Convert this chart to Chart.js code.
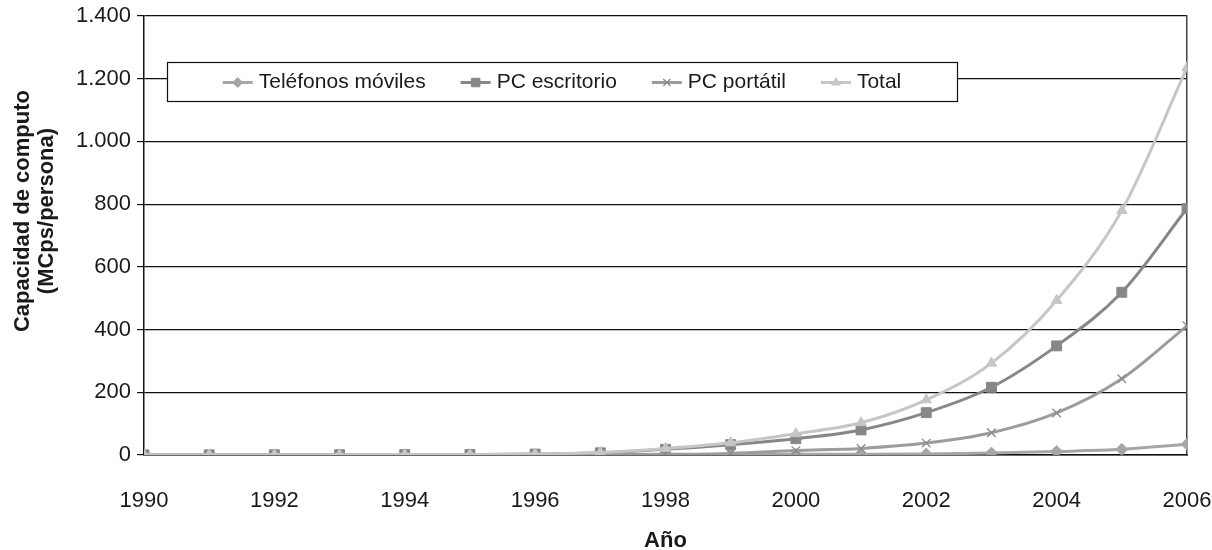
<!DOCTYPE html>
<html lang="es">
<head>
<meta charset="utf-8">
<title>Capacidad de computo por persona</title>
<script src="https://cdn.jsdelivr.net/npm/chart.js@4/dist/chart.umd.min.js"></script>
<style>
  html, body { margin: 0; padding: 0; background: #fff; }
  #contenedor { width: 1212px; height: 550px; position: relative; }
</style>
</head>
<body>
<div id="contenedor"><canvas id="grafica"></canvas></div>
<script>
// === Datos (MCps por persona) ===
const anios = [1990, 1991, 1992, 1993, 1994, 1995, 1996, 1997, 1998, 1999, 2000, 2001, 2002, 2003, 2004, 2005, 2006];
const telefonosMoviles = [0, 0, 0, 0, 0, 0, 0, 0.3, 0.5, 1, 2, 2, 3, 6, 11, 18, 34];
const pcEscritorio = [0.5, 0.6, 0.8, 1, 1.3, 1.8, 3, 7, 18, 33, 52, 80, 135, 216, 348, 519, 786];
const pcPortatil = [0, 0, 0, 0, 0, 0, 0.1, 0.5, 2, 5, 14, 21, 38, 71, 134, 243, 412];
const total = [0.5, 0.6, 0.8, 1, 1.3, 1.8, 3.1, 8, 21, 39, 68, 103, 176, 293, 493, 780, 1235];

const etiquetasSeries = ['Teléfonos móviles', 'PC escritorio', 'PC portátil', 'Total'];
const ticksY = [0, 200, 400, 600, 800, 1000, 1200, 1400];

const FUENTE = "'Liberation Sans', Arial, Helvetica, sans-serif";

function aPuntos(valores) {
  return valores.map((v, i) => ({ x: anios[i], y: v }));
}

// separador de miles con punto: 1.400
function formatoMiles(valor) {
  return String(valor).replace(/\B(?=(\d{3})+(?!\d))/g, '.');
}

function crearSerie(etiqueta, valores, color, estilo, radio, orden) {
  const esCruz = estilo === 'crossRot';
  return {
    label: etiqueta,
    data: aPuntos(valores),
    borderColor: color,
    backgroundColor: color,
    borderWidth: 3,
    pointStyle: estilo,
    pointRadius: radio,
    pointBorderWidth: esCruz ? 1.3 : 1,
    pointBorderColor: esCruz ? '#8a8a8a' : color,
    pointBackgroundColor: color,
    cubicInterpolationMode: 'monotone',
    order: orden,
  };
}

// sin margen extra por las etiquetas que sobresalen
function sinRelleno(escala) {
  escala.paddingTop = 0;
  escala.paddingBottom = 0;
  escala.paddingLeft = 0;
  escala.paddingRight = 0;
}

// === Leyenda dentro del área del gráfico, con recuadro ===
const leyendaEnCaja = {
  id: 'leyendaEnCaja',
  afterDraw(chart) {
    const { ctx, chartArea } = chart;
    const izq = chartArea.left + 23;
    const arriba = chartArea.top + 46;
    const ancho = 790;
    const alto = 39;

    ctx.save();
    ctx.fillStyle = '#fff';
    ctx.fillRect(izq, arriba, ancho, alto);
    ctx.strokeStyle = '#111';
    ctx.lineWidth = 1.2;
    ctx.strokeRect(izq + 0.5, arriba + 0.5, ancho, alto);

    ctx.font = '21px ' + FUENTE;
    ctx.textBaseline = 'middle';
    const anchoIcono = 30;
    const separacionTexto = 6;
    const separacionItems = 35;

    const items = chart.data.datasets.map(ds => ({
      ds,
      anchoTexto: ctx.measureText(ds.label).width,
    }));
    const anchoTotal = items.reduce((s, it) => s + anchoIcono + separacionTexto + it.anchoTexto, 0)
      + separacionItems * (items.length - 1);

    let x = izq + (ancho - anchoTotal) / 2;
    const y = arriba + alto / 2 + 1;

    items.forEach(({ ds, anchoTexto }) => {
      ctx.strokeStyle = ds.borderColor;
      ctx.lineWidth = 3;
      ctx.beginPath();
      ctx.moveTo(x, y);
      ctx.lineTo(x + anchoIcono, y);
      ctx.stroke();

      ctx.fillStyle = ds.pointBackgroundColor;
      ctx.strokeStyle = ds.pointBorderColor;
      ctx.lineWidth = ds.pointBorderWidth;
      if (Chart.helpers && Chart.helpers.drawPoint) {
        Chart.helpers.drawPoint(ctx, { pointStyle: ds.pointStyle, radius: ds.pointRadius - 1, rotation: 0, borderWidth: ds.pointBorderWidth }, x + anchoIcono / 2, y);
      }

      ctx.fillStyle = '#1a1a1a';
      ctx.textAlign = 'left';
      ctx.fillText(ds.label, x + anchoIcono + separacionTexto, y);
      x += anchoIcono + separacionTexto + anchoTexto + separacionItems;
    });
    ctx.restore();
  },
};

const grafica = new Chart(document.getElementById('grafica').getContext('2d'), {
  type: 'line',
  data: {
    datasets: [
      crearSerie(etiquetasSeries[0], telefonosMoviles, '#a6a6a6', 'rectRot', 6, 4),
      crearSerie(etiquetasSeries[1], pcEscritorio, '#878787', 'rect', 7, 3),
      crearSerie(etiquetasSeries[2], pcPortatil, '#9c9c9c', 'crossRot', 6, 2),
      crearSerie(etiquetasSeries[3], total, '#c6c6c6', 'triangle', 6, 1),
    ],
  },
  options: {
    responsive: true,
    maintainAspectRatio: false,
    animation: false,
    layout: { padding: { top: 16, right: 25, bottom: 0, left: 0 } },
    plugins: {
      legend: { display: false },
      tooltip: { enabled: false },
    },
    scales: {
      x: {
        type: 'linear',
        min: anios[0],
        max: anios[anios.length - 1],
        grid: { display: false, drawTicks: false },
        border: { display: true, color: '#111', width: 1.5 },
        ticks: {
          stepSize: 2,
          padding: 33,
          color: '#1a1a1a',
          font: { family: FUENTE, size: 22 },
          maxRotation: 0,
          callback: v => String(v),
        },
        title: {
          display: true,
          text: 'Año',
          color: '#1a1a1a',
          font: { family: FUENTE, size: 22, weight: 'bold' },
          padding: { top: 0, bottom: -4 },
        },
        afterFit: escala => { sinRelleno(escala); escala.height = 95; },
      },
      y: {
        min: 0,
        max: 1400,
        afterBuildTicks: escala => { escala.ticks = ticksY.map(v => ({ value: v })); },
        grid: { color: '#111', lineWidth: 1.2, tickLength: 7 },
        border: { display: true, color: '#111', width: 1.5 },
        ticks: {
          padding: 6,
          color: '#1a1a1a',
          font: { family: FUENTE, size: 22 },
          callback: v => formatoMiles(v),
        },
        title: {
          display: true,
          text: ['        Capacidad de computo', '        (MCps/persona)'],
          color: '#1a1a1a',
          font: { family: FUENTE, size: 22, weight: 'bold', lineHeight: 1.1 },
          padding: { top: 11, bottom: 0 },
        },
        afterFit: escala => { sinRelleno(escala); escala.width = 144; },
      },
      borde: {
        position: 'right',
        min: 0,
        max: 1400,
        grid: { display: false, drawTicks: false },
        border: { display: true, color: '#444', width: 1.5 },
        ticks: { display: false },
        afterFit: escala => { sinRelleno(escala); escala.width = 0; },
      },
    },
  },
  plugins: [leyendaEnCaja],
});
</script>
</body>
</html>
